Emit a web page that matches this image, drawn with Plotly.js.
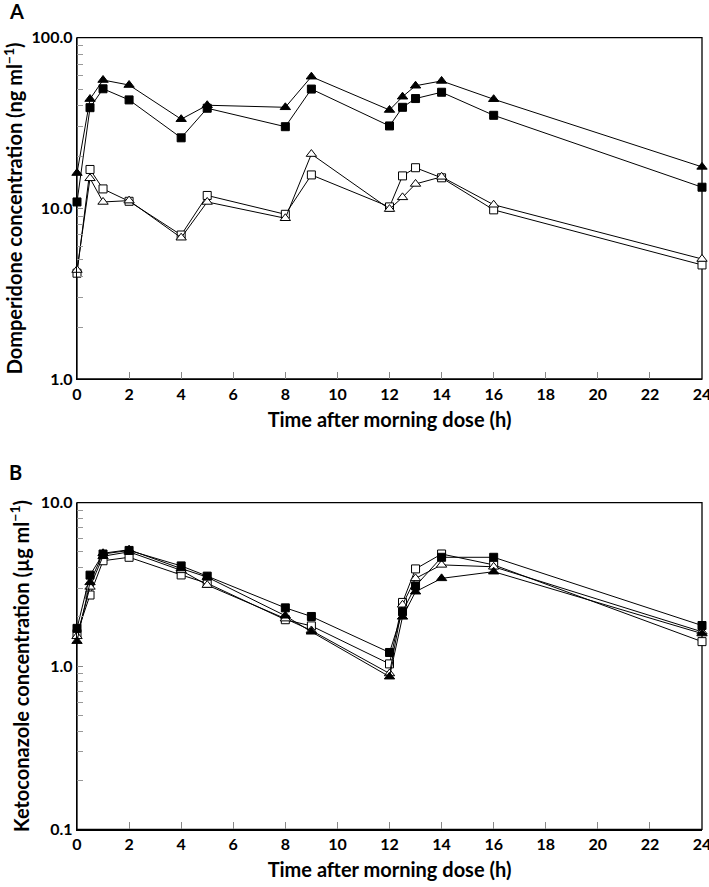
<!DOCTYPE html>
<html>
<head>
<meta charset="utf-8">
<script src="https://cdn.plot.ly/plotly-3.0.1.min.js"></script>
<style>
  body { margin: 0; background: #fff; }
  #chart { width: 709px; height: 887px; }
</style>
</head>
<body>
<div id="chart"></div>
<script>
// sampling times (h after morning dose)
var timeH = [0, 0.5, 1, 2, 4, 5, 8, 9, 12, 12.5, 13, 14, 16, 24];
var xTicks = [0, 2, 4, 6, 8, 10, 12, 14, 16, 18, 20, 22, 24];

// panel A - domperidone (ng/ml)
var domFilledTri = [16.1, 43.7, 56.5, 52.8, 33.3, 40.2, 39.1, 59.1, 37.7, 45.1, 52.3, 55.8, 43.6, 17.5];
var domFilledSq  = [10.9, 38.9, 50.2, 43.2, 25.9, 38.6, 30.1, 50.0, 30.4, 39.1, 44.0, 47.9, 35.1, 13.3];
var domOpenSq    = [4.17, 16.9, 13.0, 11.0, 6.98, 11.9, 9.23, 15.7, 10.2, 15.5, 17.3, 15.1, 9.8, 4.66];
var domOpenTri   = [4.35, 15.0, 10.9, 11.1, 6.73, 10.9, 8.75, 20.8, 9.9, 11.6, 13.9, 15.3, 10.5, 5.05];

// panel B - ketoconazole (ug/ml)
var ketoFilledSq  = [1.70, 3.60, 4.85, 5.10, 4.10, 3.55, 2.27, 2.01, 1.21, 2.15, 3.09, 4.63, 4.63, 1.77];
var ketoFilledTri = [1.42, 3.25, 4.90, 5.15, 3.95, 3.50, 2.03, 1.62, 0.86, 2.00, 2.85, 3.44, 3.78, 1.58];
var ketoOpenSq    = [1.58, 2.72, 4.41, 4.63, 3.61, 3.21, 1.92, 1.76, 1.03, 2.45, 3.93, 4.85, 4.16, 1.41];
var ketoOpenTri   = [1.52, 3.05, 4.70, 5.00, 3.85, 3.13, 1.95, 1.65, 0.90, 2.37, 3.44, 4.16, 4.05, 1.62];

function series(y, symbol, filled, xa, ya) {
  return {
    x: timeH, y: y, xaxis: xa, yaxis: ya,
    type: 'scatter', mode: 'lines+markers',
    cliponaxis: false,
    line: {color: '#000', width: 1},
    marker: {
      symbol: symbol,
      size: symbol == 'square' ? 8 : 9,
      color: filled ? '#000' : '#fff',
      line: {color: '#000', width: 1}
    },
    showlegend: false
  };
}

var data = [
  series(domOpenSq, 'square', false, 'x', 'y'),
  series(domOpenTri, 'triangle-up', false, 'x', 'y'),
  series(domFilledSq, 'square', true, 'x', 'y'),
  series(domFilledTri, 'triangle-up', true, 'x', 'y'),
  series(ketoOpenSq, 'square', false, 'x2', 'y2'),
  series(ketoOpenTri, 'triangle-up', false, 'x2', 'y2'),
  series(ketoFilledTri, 'triangle-up', true, 'x2', 'y2'),
  series(ketoFilledSq, 'square', true, 'x2', 'y2')
];

var fontFam = 'Lato, "Open Sans", sans-serif';

function xAxis(anchor) {
  return {
    anchor: anchor, domain: [0, 1],
    range: [0, 24], tickmode: 'array', tickvals: xTicks,
    ticks: 'inside', ticklen: 7, tickcolor: '#888', tickwidth: 1,
    ticklabeloverflow: 'allow',
    showline: true, linecolor: '#000', linewidth: 1.3, mirror: false,
    showgrid: false, zeroline: false,
    tickfont: {size: 16, color: '#000'},
    title: {text: 'Time after morning dose (h)', font: {size: 20, color: '#000'}, standoff: 11}
  };
}

function yAxis(anchor, domain, range, title) {
  return {
    anchor: anchor, domain: domain,
    type: 'log', range: range,
    tickmode: 'linear', tick0: 0, dtick: 1, tickformat: '.1f',
    ticks: 'inside', ticklen: 6, tickcolor: '#888', tickwidth: 1,
    ticklabeloverflow: 'allow',
    minor: {dtick: 'D1', ticks: 'inside', ticklen: 6, tickcolor: '#999', tickwidth: 1, showgrid: false},
    showline: true, linecolor: '#000', linewidth: 1.3, mirror: false,
    showgrid: false, zeroline: false,
    tickfont: {size: 16, color: '#000'},
    title: {text: title, font: {size: 20, color: '#000'}, standoff: 6}
  };
}

// frame around each panel (top and right edges without ticks)
function frame(xa, ya) {
  return {
    type: 'rect', xref: xa + ' domain', yref: ya + ' domain',
    x0: 0, x1: 1, y0: 0, y1: 1, layer: 'below',
    line: {color: '#000', width: 1.3}, fillcolor: 'rgba(0,0,0,0)'
  };
}

var layout = {
  width: 709, height: 887,
  margin: {l: 77, r: 7, t: 0, b: 0},
  paper_bgcolor: '#fff', plot_bgcolor: 'rgba(0,0,0,0)',
  font: {family: fontFam, weight: 'bold', color: '#000'},
  xaxis: xAxis('y'),
  yaxis: yAxis('x', [0.5727, 0.9575], [0, 2], 'Domperidone concentration (ng ml<sup>−1</sup>)'),
  xaxis2: xAxis('y2'),
  yaxis2: yAxis('x2', [0.065, 0.4333], [-1, 1], 'Ketoconazole concentration (µg ml<sup>−1</sup>)'),
  shapes: [frame('x', 'y'), frame('x2', 'y2')],
  annotations: [
    {text: 'A', xref: 'paper', yref: 'paper', x: -0.112, y: 0.988, xanchor: 'left', yanchor: 'middle',
     showarrow: false, font: {size: 20, color: '#000'}},
    {text: 'B', xref: 'paper', yref: 'paper', x: -0.112, y: 0.468, xanchor: 'left', yanchor: 'middle',
     showarrow: false, font: {size: 20, color: '#000'}}
  ]
};

Plotly.newPlot('chart', data, layout, {staticPlot: true});
</script>
</body>
</html>
